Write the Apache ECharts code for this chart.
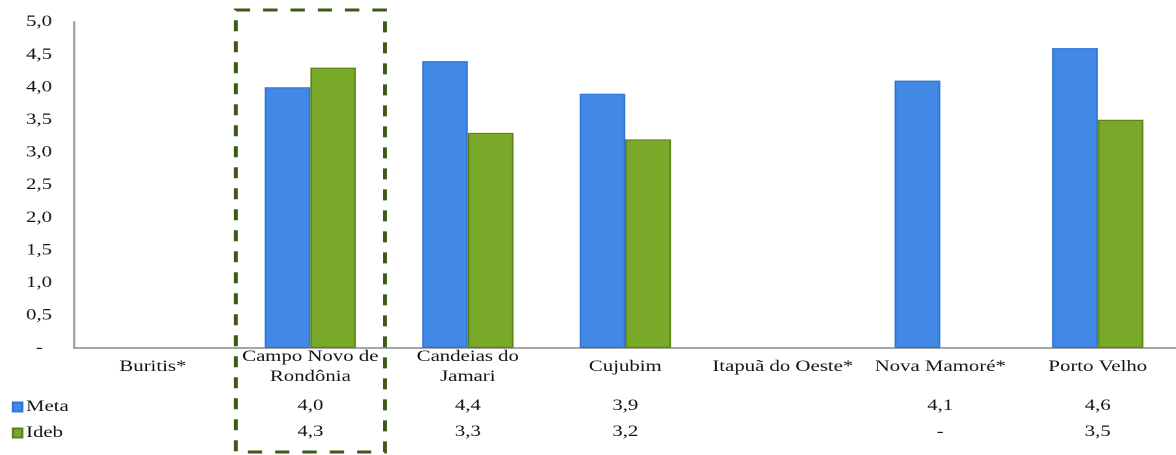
<!DOCTYPE html>
<html>
<head>
<meta charset="utf-8">
<script src="https://cdn.jsdelivr.net/npm/echarts@6/dist/echarts.min.js"></script>
<style>
  html, body { margin: 0; padding: 0; background: #ffffff; overflow: hidden; }
  /* The chart is laid out narrow and widened horizontally, giving the wide serif lettering */
  #chart { width: 904.6px; height: 455px; transform: scaleX(1.3); transform-origin: 0 0; }
</style>
</head>
<body>
<div id="chart"></div>
<script>
// Municípios avaliados
const categories = ['Buritis*', 'Campo Novo de Rondônia', 'Candeias do Jamari', 'Cujubim', 'Itapuã do Oeste*', 'Nova Mamoré*', 'Porto Velho'];
// Rótulos do eixo (com quebra de linha)
const categoryLabels = ['Buritis*', 'Campo Novo de\nRondônia', 'Candeias do\nJamari', 'Cujubim', 'Itapuã do Oeste*', 'Nova Mamoré*', 'Porto Velho'];
// Meta projetada e Ideb observado (null = sem dado)
const meta = [null, 4.0, 4.4, 3.9, null, 4.1, 4.6];
const ideb = [null, 4.3, 3.3, 3.2, null, 0, 3.5];
// Marcas do eixo vertical
const yTicks = [0, 0.5, 1.0, 1.5, 2.0, 2.5, 3.0, 3.5, 4.0, 4.5, 5.0];
// Município destacado com moldura tracejada
const highlighted = 'Campo Novo de Rondônia';

const FONT = 'Liberation Serif';
const SIZE = 16;
const INK = '#141414';
const fmt = v => (v === null || v === undefined) ? '' : (v === 0 ? '-' : v.toFixed(1).replace('.', ','));
// zero-height bars keep no outline
const barData = values => values.map(v => v === 0 ? { value: 0, itemStyle: { borderWidth: 0 } } : v);

const chart = echarts.init(document.getElementById('chart'), null, { renderer: 'canvas', devicePixelRatio: 2 });

const tableAxis = (values, margin) => ({
  type: 'category',
  gridIndex: 0,
  position: 'bottom',
  data: values.map(fmt),
  axisLine: { show: false },
  axisTick: { show: false },
  axisLabel: {
    margin: margin,
    verticalAlign: 'middle',
    fontFamily: FONT,
    fontSize: SIZE,
    color: INK,
    interval: 0
  }
});

chart.setOption({
  animation: false,
  backgroundColor: '#ffffff',
  grid: { left: 57, right: 0, top: 22, bottom: 107, containLabel: false },
  legend: {
    orient: 'vertical',
    left: 9,
    top: 399,
    padding: 0,
    icon: 'rect',
    itemWidth: 7,
    itemHeight: 9,
    itemGap: 10,
    textStyle: { fontFamily: FONT, fontSize: SIZE, color: INK, padding: [0, 0, 0, -2] },
    data: ['Meta', 'Ideb']
  },
  xAxis: [
    {
      type: 'category',
      data: categories,
      axisLine: { lineStyle: { color: '#a6a6a6', width: 2 } },
      axisTick: { show: false },
      axisLabel: {
        interval: 0,
        margin: 19,
        verticalAlign: 'middle',
        lineHeight: 20,
        fontFamily: FONT,
        fontSize: SIZE,
        color: INK,
        formatter: (v, i) => categoryLabels[i]
      }
    },
    tableAxis(meta, 58),
    tableAxis(ideb, 84)
  ],
  yAxis: {
    type: 'value',
    min: yTicks[0],
    max: yTicks[yTicks.length - 1],
    interval: yTicks[1] - yTicks[0],
    axisLine: { show: true, lineStyle: { color: '#a6a6a6', width: 2 } },
    axisTick: { show: false },
    splitLine: { show: false },
    axisLabel: {
      margin: 17,
      fontFamily: FONT,
      fontSize: SIZE,
      color: INK,
      formatter: v => v === 0 ? '{d|-}' : fmt(v),
      rich: { d: { fontFamily: FONT, fontSize: SIZE, color: INK, padding: [0, 7, 0, 0] } }
    }
  },
  series: [
    {
      name: 'Meta',
      type: 'bar',
      data: barData(meta),
      barGap: '0%',
      barCategoryGap: '42%',
      itemStyle: { color: '#4189e4', borderColor: '#2f74d2', borderWidth: 1.2 }
    },
    {
      name: 'Ideb',
      type: 'bar',
      data: barData(ideb),
      itemStyle: { color: '#7aa829', borderColor: '#5d841b', borderWidth: 1.2 }
    }
  ]
});

// Moldura tracejada em torno do município destacado (coluna, rótulo e valores)
function drawFrame() {
  const idx = categories.indexOf(highlighted);
  const cx = chart.convertToPixel({ xAxisIndex: 0 }, idx);
  const step = chart.convertToPixel({ xAxisIndex: 0 }, idx + 1) - cx;
  const half = step * 0.473;
  chart.setOption({
    graphic: [{
      type: 'rect',
      silent: true,
      shape: { x: cx - half, y: 10, width: half * 2, height: 442 },
      style: { fill: 'none', stroke: '#3b5a17', lineWidth: 3, lineDash: [11, 10] },
      z: 100
    }]
  });
}
drawFrame();
</script>
</body>
</html>
